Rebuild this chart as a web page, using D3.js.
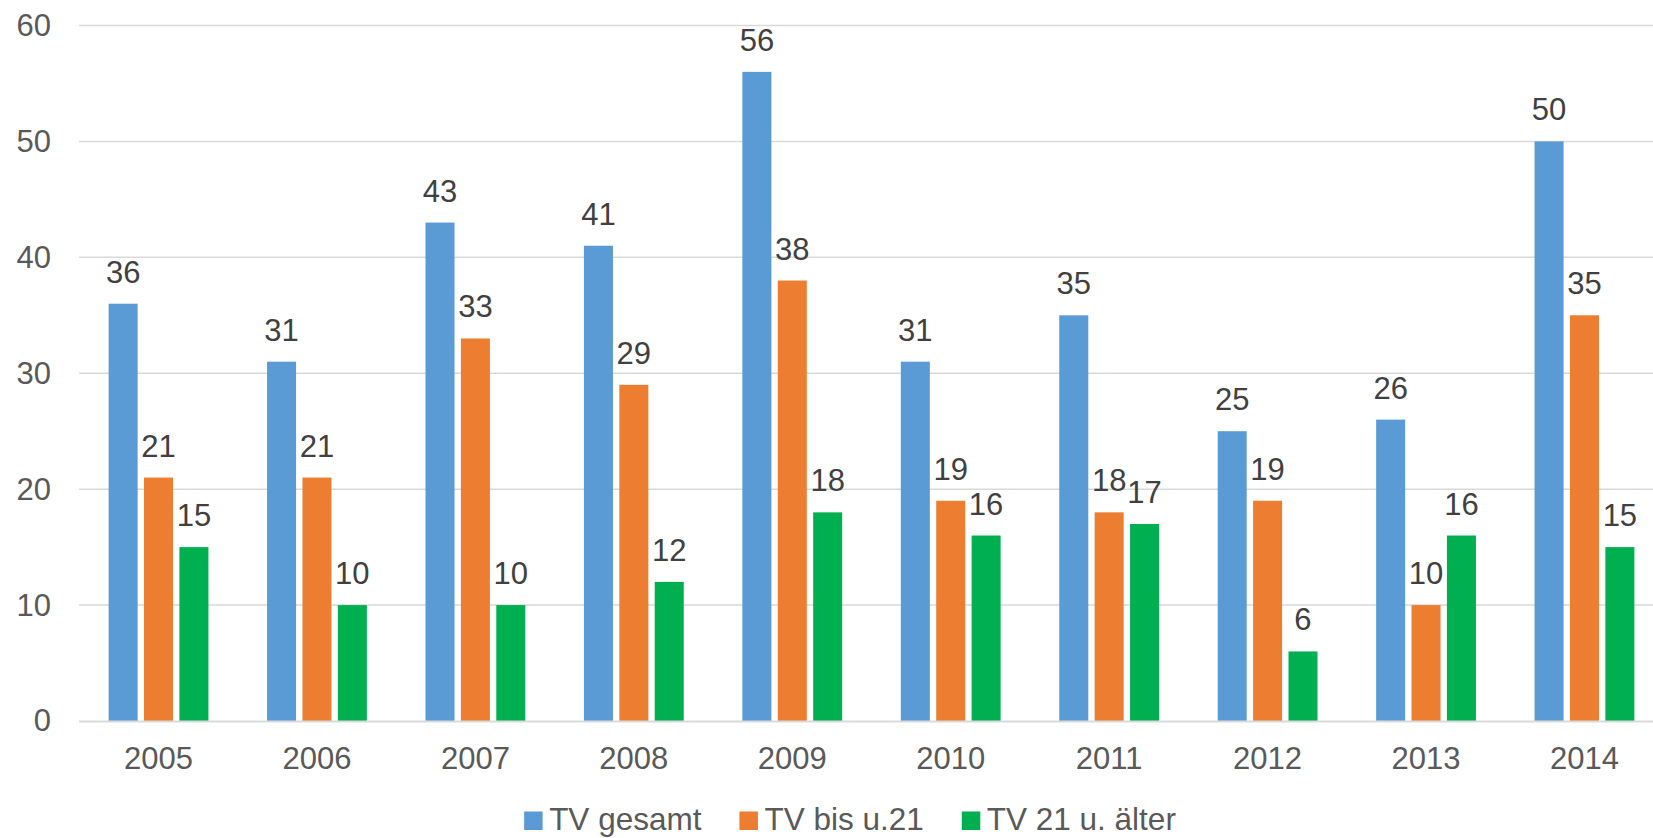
<!DOCTYPE html>
<html>
<head>
<meta charset="utf-8">
<script src="https://cdn.jsdelivr.net/npm/d3@7"></script>
<style>
body { margin: 0; background: #fff; }
svg { display: block; font-family: "Liberation Sans", Arial, sans-serif; }
</style>
</head>
<body>
<svg width="1653" height="838"></svg>
<script>
// data
var years = ["2005", "2006", "2007", "2008", "2009", "2010", "2011", "2012", "2013", "2014"];
var series_names = ["TV gesamt", "TV bis u.21", "TV 21 u. älter"];
var tv_gesamt = [36, 31, 43, 41, 56, 31, 35, 25, 26, 50];
var tv_bis_21 = [21, 21, 33, 29, 38, 19, 18, 19, 10, 35];
var tv_21_aelter = [15, 10, 10, 12, 18, 16, 17, 6, 16, 15];
var y_ticks = [0, 10, 20, 30, 40, 50, 60];

const COLORS = ['#5B9BD5', '#ED7D31', '#00B050'];
const GRID_COLOR = '#D9D9D9';

var svg = d3.select("svg");
var width = 1653;

var all_series = [tv_gesamt, tv_bis_21, tv_21_aelter];

// rows for grouped bars
var rows = years.map(function(yr, i){
    return {
        year: yr,
        values: all_series.map(function(s, k){
            return {name: series_names[k], value: s[i], idx: k};
        })
    };
});

// the plot runs a little past the right edge of the picture
var x0 = d3.scaleBand()
    .domain(years)
    .range([79.3, 1663.7])
    .paddingInner(0.37)
    .paddingOuter(0.185);

var x1 = d3.scaleBand()
    .domain(series_names)
    .range([0, x0.bandwidth()])
    .paddingInner(0.18)
    .paddingOuter(0);

var y = d3.scaleLinear()
    .domain([0, 60])
    .range([721, 25.5]);

// gridlines
svg.append("g")
    .attr("class", "grid")
    .selectAll("line")
    .data(y_ticks.filter(function(d){ return d > 0; }))
    .enter().append("line")
    .attr("x1", 79)
    .attr("x2", width)
    .attr("y1", function(d){ return y(d); })
    .attr("y2", function(d){ return y(d); })
    .attr("stroke", GRID_COLOR)
    .attr("stroke-width", 1.5);

// y axis labels
var yAxis = d3.axisLeft(y).tickValues(y_ticks).tickSize(0).tickPadding(0);
var yg = svg.append("g")
    .attr("transform", "translate(51,0)")
    .call(yAxis);
yg.select(".domain").remove();
yg.selectAll("text")
    .attr("fill", "#595959")
    .style("font-size", "31px")
    .style("font-family", "Liberation Sans, Arial, sans-serif");

// bars
var groups = svg.append("g")
    .selectAll("g")
    .data(rows)
    .enter().append("g")
    .attr("transform", function(d){ return "translate(" + x0(d.year) + ",0)"; });

groups.selectAll("rect")
    .data(function(d){ return d.values; })
    .enter().append("rect")
    .attr("x", function(d){ return x1(d.name); })
    .attr("width", x1.bandwidth())
    .attr("y", function(d){ return y(d.value); })
    .attr("height", function(d){ return y(0) - y(d.value); })
    .attr("fill", function(d){ return COLORS[d.idx]; });

// value labels
groups.selectAll("text")
    .data(function(d){ return d.values; })
    .enter().append("text")
    .attr("x", function(d){ return x1(d.name) + x1.bandwidth()/2; })
    .attr("y", function(d){ return y(d.value) - 21; })
    .attr("text-anchor", "middle")
    .attr("fill", "#404040")
    .style("font-size", "31px")
    .text(function(d){ return d.value; });

// x axis line at zero
svg.append("line")
    .attr("x1", 79)
    .attr("x2", width)
    .attr("y1", y(0) + 0.5)
    .attr("y2", y(0) + 0.5)
    .attr("stroke", GRID_COLOR)
    .attr("stroke-width", 2);

// x axis labels
var xAxis = d3.axisBottom(x0).tickSize(0).tickPadding(0);
var xg = svg.append("g")
    .attr("transform", "translate(0,747)")
    .call(xAxis);
xg.select(".domain").remove();
xg.selectAll("text")
    .attr("fill", "#595959")
    .attr("dy", "0.72em")
    .style("font-size", "31px")
    .style("font-family", "Liberation Sans, Arial, sans-serif");

// legend
var legend = svg.append("g");
var lx = 0;
series_names.forEach(function(name, k){
    var item = legend.append("g").attr("transform", "translate(" + lx + ",0)");
    item.append("rect")
        .attr("x", 0)
        .attr("y", -18.5)
        .attr("width", 18.5)
        .attr("height", 18.5)
        .attr("fill", COLORS[k]);
    var t = item.append("text")
        .attr("x", 25)
        .attr("y", 0)
        .attr("fill", "#595959")
        .style("font-size", "31.5px")
        .text(name);
    lx += 25 + t.node().getComputedTextLength() + 38;
});
var legend_w = lx - 38;
legend.attr("transform", "translate(" + (850 - legend_w/2) + ",830)");
</script>
</body>
</html>
